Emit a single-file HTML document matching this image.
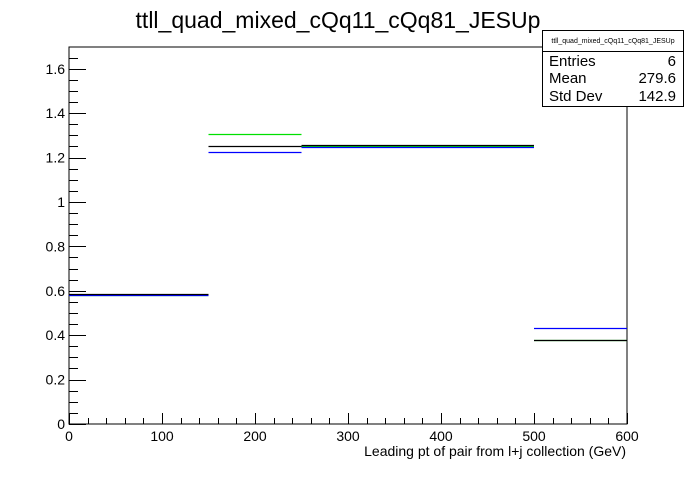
<!DOCTYPE html>
<html><head><meta charset="utf-8"><style>
body{margin:0;background:#fff;}
svg text{font-family:"Liberation Sans",Arial,sans-serif;}
</style></head><body>
<svg id="c" width="696" height="472" xmlns="http://www.w3.org/2000/svg">
<text x="338" y="28" font-size="23" text-anchor="middle">ttll_quad_mixed_cQq11_cQq81_JESUp</text>
<rect x="69" y="47" width="558" height="377" fill="none" stroke="#000" stroke-width="1"/>
<g id="axes"></g>
<g id="series"></g>
<text x="626" y="456" font-size="14" text-anchor="end">Leading pt of pair from l+j collection (GeV)</text>
<g>
<rect x="542.5" y="30.5" width="141" height="76" fill="#fff" stroke="#000"/>
<line x1="542.5" y1="51.5" x2="683.5" y2="51.5" stroke="#000"/>
<text x="613" y="43" font-size="7" text-anchor="middle">ttll_quad_mixed_cQq11_cQq81_JESUp</text>
<text x="549" y="66" font-size="15">Entries</text><text x="676" y="66" font-size="15" text-anchor="end">6</text>
<text x="549" y="83" font-size="15">Mean</text><text x="676" y="83" font-size="15" text-anchor="end">279.6</text>
<text x="549" y="101" font-size="15">Std Dev</text><text x="676" y="101" font-size="15" text-anchor="end">142.9</text>
</g>
</svg>
<script>
const binEdges=[0,150,250,500,600];
const blackVals=[0.586,1.252,1.257,0.378];
const greenVals=[0.580,1.306,1.252,0.380];
const blueVals=[0.583,1.225,1.248,0.432];
const yTicks=[0,0.2,0.4,0.6,0.8,1,1.2,1.4,1.6];
const xTicks=[0,100,200,300,400,500,600];
const NS="http://www.w3.org/2000/svg";
const X0=69,X1=627,Y0=424,Y1=47,XMAX=600,YMAX=1.698;
function sx(v){return X0+(v/XMAX)*(X1-X0);}
function sy(v){return Y0-(v/YMAX)*(Y0-Y1);}
function mk(tag,attrs,parent){const e=document.createElementNS(NS,tag);for(const k in attrs)e.setAttribute(k,attrs[k]);parent.appendChild(e);return e;}
const ax=document.getElementById('axes');
for(let v=0;v<=1.69;v+=0.05){const y=Math.round(sy(v))+0.5;const major=Math.abs(v/0.2-Math.round(v/0.2))<1e-6;
 const l=mk('line',{x1:X0,y1:y,x2:X0+(major?17:9),y2:y,stroke:'#000'},ax);
 }
yTicks.forEach(v=>{const t=mk('text',{x:X0-4,y:sy(v)+5,'font-size':14,'text-anchor':'end'},ax);t.textContent=String(v);
 });
for(let v=0;v<=600;v+=20){const x=Math.round(sx(v))+0.5;const major=v%100===0;
 const l=mk('line',{x1:x,y1:Y0,x2:x,y2:Y0-(major?11:6),stroke:'#000'},ax);
 }
xTicks.forEach(v=>{const t=mk('text',{x:sx(v),y:Y0+17,'font-size':14,'text-anchor':'middle'},ax);t.textContent=String(v);
 });
const sg=document.getElementById('series');
function draw(vals,color,name){vals.forEach((v,i)=>{const y=Math.round(sy(v))+0.5;
 const l=mk('line',{x1:sx(binEdges[i]),y1:y,x2:sx(binEdges[i+1]),y2:y,stroke:color,'stroke-width':1.2},sg);
 });}
draw(greenVals,'#00e000','green-hist');
draw(blueVals,'#0000ff','blue-hist');
draw(blackVals,'#000','black-hist');
</script>
</body></html>
